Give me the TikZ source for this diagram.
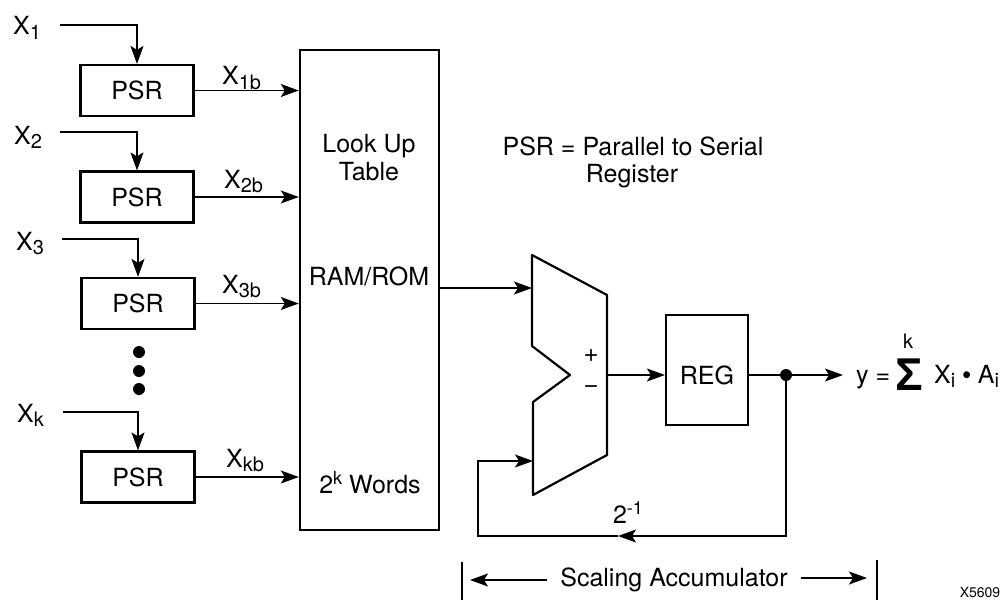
\documentclass[tikz,border=0pt]{standalone}
\usepackage{fontspec}
\setmainfont{TeX Gyre Heros}
\newfontfamily\symfont{Liberation Sans}
\usetikzlibrary{arrows.meta}
\newcommand\sbs[1]{\raisebox{-4.5pt}{\fontsize{20}{20}\selectfont #1}}
\newcommand\sps[1]{\raisebox{9pt}{\fontsize{18}{18}\selectfont #1}}
\begin{document}
\begin{tikzpicture}[x=1pt,y=-1pt,
  every node/.style={font=\fontsize{25}{28}\selectfont, inner sep=0pt},
  box/.style={draw, line width=2.2pt, minimum width=113pt, minimum height=51pt},
  lbl/.style={anchor=base west},
  ctxt/.style={anchor=base},
  wire/.style={line width=1.3pt},
  arr/.style={wire, -{Stealth[length=18pt,width=13pt,inset=4pt]}},
  blk/.style={line width=2.2pt, line join=round}]
\fill[white] (0,0) rectangle (1008,599);
\clip (0,0) rectangle (1008,599);

% PSR boxes
\node[box] (p1) at (137,90.5) {PSR};
\node[box] (p2) at (137,197) {PSR};
\node[box] (p3) at (138,303.5) {PSR};
\node[box] (pk) at (138,477) {PSR};

% input labels
\node[lbl] (x1) at (13,35) {X\sbs{1}};
\node[lbl] (x2) at (14,144) {X\sbs{2}};
\node[lbl] (x3) at (16,250) {X\sbs{3}};
\node[lbl] (xk) at (17,422) {X\sbs{k}};

\coordinate (i1) at (60,25);
\coordinate (i2) at (60,132);
\coordinate (i3) at (62,239);
\coordinate (ik) at (63,412);
\draw[arr] (i1) -| (p1.north);
\draw[arr] (i2) -| (p2.north);
\draw[arr] (i3) -| (p3.north);
\draw[arr] (ik) -| (pk.north);

% dots
\fill (139,352) circle (6pt);
\fill (139,371) circle (6pt);
\fill (139,389) circle (6pt);

% look up table
\node[draw, line width=2.4pt, minimum width=139pt, minimum height=480pt] (lut) at (369.5,290) {};
\node[ctxt] (t1) at (369,152) {Look Up};
\node[ctxt] (t2) at (369,180) {Table};
\node[ctxt] (t3) at (369,285) {RAM/ROM};
\node[ctxt] (t4) at (370,493) {2\sps{k} Words};

% outputs of PSR
\draw[arr] (p1.east) -- (p1.east -| lut.west);
\draw[arr] (p2.east) -- (p2.east -| lut.west);
\draw[arr] (p3.east) -- (p3.east -| lut.west);
\draw[arr] (pk.east) -- (pk.east -| lut.west);
\node[lbl] (x1b) at (222,85) {X\sbs{1b}};
\node[lbl] (x2b) at (224,188) {X\sbs{2b}};
\node[lbl] (x3b) at (222,293) {X\sbs{3b}};
\node[lbl] (xkb) at (226,467) {X\sbs{kb}};

% note
\node[ctxt] (n1) at (633,155) {PSR = Parallel to Serial};
\node[ctxt] (n2) at (632,182) {Register};

% adder
\coordinate (a1) at (532,255);
\coordinate (a2) at (607,295);
\coordinate (a3) at (607,455);
\coordinate (a4) at (533,495);
\coordinate (a5) at (533,402);
\coordinate (a6) at (570,375);
\coordinate (a7) at (532,346);
\draw[blk] (a1) -- (a2) -- (a3) -- (a4) -- (a5) -- (a6) -- (a7) -- cycle;
\node[font=\symfont\fontsize{24}{24}\selectfont] (plus) at (591,357) {+};
\node[font=\symfont\fontsize{24}{24}\selectfont] (minus) at (591,390) {−};

\coordinate (ain1) at (532,288);
\coordinate (ain2) at (533,461);
\coordinate (aout) at (607,375);
\draw[arr] (lut.east |- ain1) -- (ain1);

% register
\node[box, minimum width=82pt, minimum height=110pt] (reg) at (707,370) {};
\node (regt) at (707,375) {REG};
\draw[arr] (aout) -- (aout -| reg.west);

% output and feedback
\coordinate (jn) at (786,375);
\coordinate (yout) at (843,375);
\draw[arr] (reg.east |- jn) -- (yout);
\fill (jn) circle (6pt);
\coordinate (fbm) at (618,536);
\coordinate (fbl) at (478,536);
\draw[arr] (jn) |- (fbm);
\draw[arr] (fbm) -- (fbl) |- (ain2);
\node (half) at (628,513) {2\sps{-1}};

% equation
\node[lbl] (eqy) at (856,383) {y =};
\node[anchor=base, font=\symfont\bfseries\fontsize{46}{46}\selectfont] (sig) at (909,390) {Σ};
\node[anchor=base, font=\fontsize{20}{20}\selectfont] (kk) at (908,348) {k};
\node[lbl] (eqr) at (934,383) {X\sbs{i} {\symfont •} A\sbs{i}};

% scaling accumulator
\coordinate (bl1) at (462,562);
\coordinate (bl2) at (462,610);
\coordinate (br1) at (877,560);
\coordinate (br2) at (877,610);
\draw[wire] (bl1) -- (bl2);
\draw[wire] (br1) -- (br2);
\node (sa) at (674,580) {Scaling Accumulator};
\coordinate (sal) at (470,580);
\coordinate (sar) at (867,578);
\draw[arr] ([xshift=-13pt]sa.west) -- (sal);
\draw[arr] ([xshift=13pt]sa.east |- sar) -- (sar);

\node[anchor=base, font=\fontsize{14}{14}\selectfont] (code) at (980,597) {X5609};
\end{tikzpicture}
\end{document}
